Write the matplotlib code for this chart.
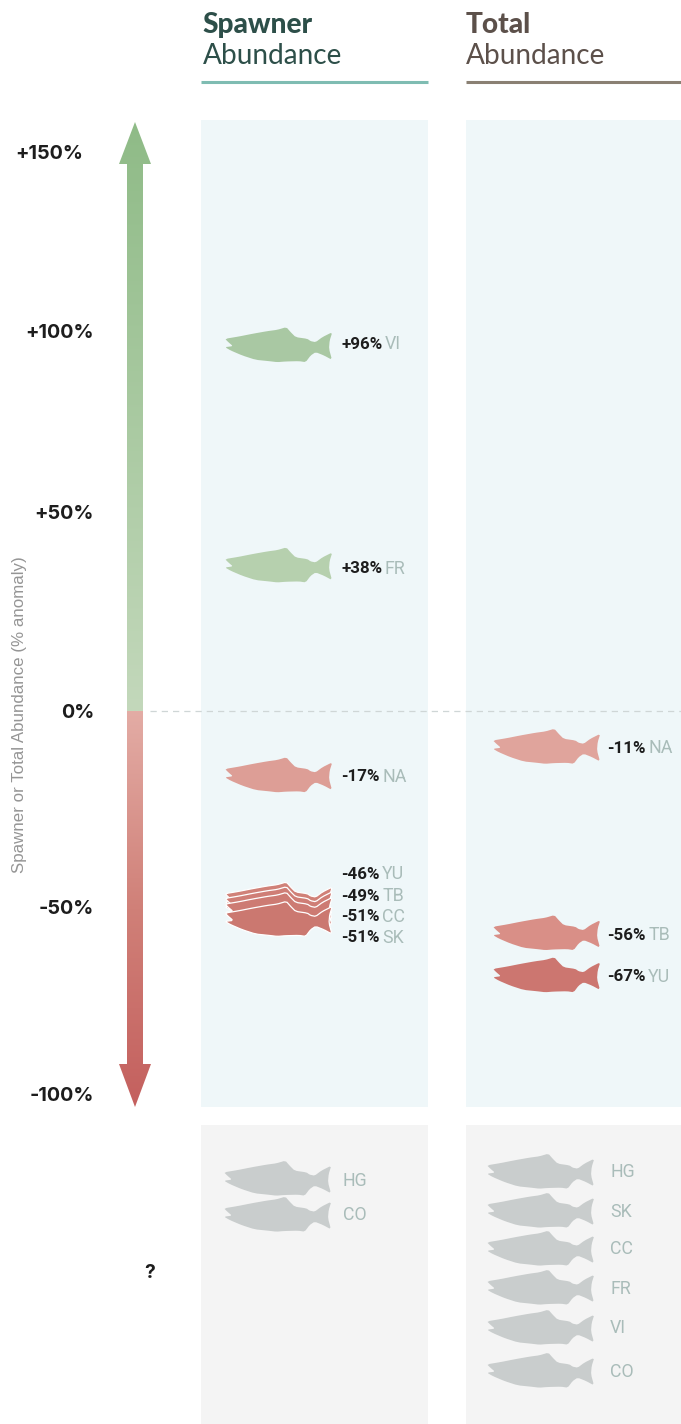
import numpy as np
import matplotlib
matplotlib.use('Agg')
import matplotlib.pyplot as plt
from matplotlib.colors import LinearSegmentedColormap
from matplotlib.patches import PathPatch, Polygon, Rectangle
from matplotlib.path import Path

# data
scale_ticks = [150, 100, 50, 0, -50, -100]
scale_labels = ['+150%', '+100%', '+50%', '0%', '-50%', '-100%']

spawner_regions = ['VI', 'FR', 'NA', 'YU', 'TB', 'CC', 'SK']
spawner_values = [96, 38, -17, -46, -49, -51, -51]
total_regions = ['NA', 'TB', 'YU']
total_values = [-11, -56, -67]
spawner_unknown = ['HG', 'CO']
total_unknown = ['HG', 'SK', 'CC', 'FR', 'VI', 'CO']

# layout, in image pixels
W, H = 681, 1424
tick_px = [152, 331, 512, 711, 907, 1094]
spawner_fish_nudge = [0, 6, -2, 9, 2, 0, 9]
spawner_label_nudge = [-1, 9, -1, -17, -7, 6, 27]
total_fish_nudge = [-7, 4, 5]
total_label_nudge = [-6, 6, 6]
spawner_unknown_y = [1179, 1215]
total_unknown_y = [1172, 1211, 1249, 1288, 1328, 1371]
spawner_unknown_label_y = [1181, 1215]
total_unknown_label_y = [1172, 1212, 1249, 1289, 1328, 1372]

# styles per fish
spawner_colours = ['#a9c8a3', '#b6d0ae', '#dd9e96', '#d08178', '#cf7e76', '#cd7b73', '#cb7870']
total_colours = ['#e0a49c', '#d98f87', '#cc7670']

# salmon outline, traced at 3x, origin at nose/mid body
fish_pts = np.array([(78, 105), (120, 98), (160, 90), (205, 82), (235, 78), (262, 70), (275, 85), (290, 100),
                     (325, 105), (335, 112), (350, 115), (370, 100), (400, 85), (392, 110), (390, 135), (399, 168),
                     (375, 155), (350, 145), (335, 155), (320, 175), (300, 172), (260, 173), (235, 175), (210, 172),
                     (170, 168), (130, 155), (95, 140), (78, 130), (102, 127), (88, 115), (78, 105)], float)
fish_pts = (fish_pts - [78, 125]) / 3.0
# knock the corners off a little
a, b = fish_pts[:-1], fish_pts[1:]
fish_pts = np.empty((2 * len(a) + 1, 2))
fish_pts[0::2][:-1] = a * 0.82 + b * 0.18
fish_pts[1::2] = a * 0.18 + b * 0.82
fish_pts[-1] = fish_pts[0]

NARROW = ['Roboto', 'DejaVu Sans']
HEAD = ['Lato', 'DejaVu Sans']
AXIS = ['Inter', 'Liberation Sans', 'DejaVu Sans']

green_cmap = LinearSegmentedColormap.from_list('g', ['#c3d8bb', '#8fbb87'])
red_cmap = LinearSegmentedColormap.from_list('r', ['#e3aca5', '#d08078', '#c4605e'])

fig = plt.figure(figsize=(W / 100, H / 100), dpi=100, facecolor='white')
ax = fig.add_axes([0, 0, 1, 1])
ax.set_xlim(0, W)
ax.set_ylim(H, 0)
ax.axis('off')

# value axis on top, sharing the pixels through a piecewise scale
val_ax = fig.add_axes([0, 0, 1, 1], zorder=2)
val_ax.patch.set_alpha(0)
anchor_v = np.array([-100 - 330 * 50 / 187] + scale_ticks[::-1] + [150 + 152 * 50 / 179])
anchor_p = np.array([H] + tick_px[::-1] + [0], float)
val_ax.set_yscale('function', functions=(lambda v: -np.interp(v, anchor_v, anchor_p),
                                         lambda p: np.interp(-p, anchor_p[::-1], anchor_v[::-1])))
val_ax.set_xlim(0, W)
val_ax.set_ylim(anchor_v[0], anchor_v[-1])
val_ax.axis('off')


def value_px(v):
    disp = val_ax.transData.transform((0, v))
    return ax.transData.inverted().transform(disp)[1]


def draw_fish(left, cy, colour, edge='none', z=3):
    path = Path(fish_pts + [left, cy])
    ax.add_patch(PathPatch(path, facecolor=colour, edgecolor=edge, lw=0.9 if edge != 'none' else 0, zorder=z))


def draw_label(x, y, num, code):
    t = ax.text(x, y, num, family=NARROW, fontsize=12.2, fontweight='bold', color='#1d1d1d', va='center', ha='left')
    ax.annotate(code, xy=(1, 0.5), xycoords=t, xytext=(2, 0), textcoords='offset points', family=NARROW,
                fontsize=12.8, color='#a9bcb9', va='center', ha='left')


# panels
for x0, x1 in [(201, 428), (466, 681)]:
    ax.add_patch(Rectangle((x0, 120), x1 - x0, 987, fc='#eff7f9', ec='none', zorder=1))
    ax.add_patch(Rectangle((x0, 1125), x1 - x0, H - 1125, fc='#f4f4f4', ec='none', zorder=1))

# headers
ax.plot([201, 428], [82, 82], color='#7fbcb2', lw=2.2, solid_capstyle='butt')
ax.plot([466, 681], [82, 82], color='#8a8073', lw=2.2, solid_capstyle='butt')
ax.text(202.5, 25, 'Spawner', family=HEAD, fontsize=20.2, fontweight='black', color='#2d4f49', va='center')
ax.text(202.5, 56, 'Abundance', family=HEAD, fontsize=20.2, color='#2d4f49', va='center')
ax.text(465.5, 25, 'Total', family=HEAD, fontsize=20.2, fontweight='black', color='#5c504a', va='center')
ax.text(465.5, 56, 'Abundance', family=HEAD, fontsize=20.2, color='#5c504a', va='center')

# gradient arrow
grad_top = np.linspace(1, 0, 256).reshape(-1, 1)
im = ax.imshow(grad_top, cmap=green_cmap, vmin=0, vmax=1, extent=(119, 151, 711, 122), aspect='auto', zorder=2)
im.set_clip_path(Polygon([(135, 122), (151, 164), (143, 164), (143, 711), (127, 711), (127, 164), (119, 164)],
                         transform=ax.transData))
grad_bot = np.linspace(0, 1, 256).reshape(-1, 1)
im = ax.imshow(grad_bot, cmap=red_cmap, vmin=0, vmax=1, extent=(119, 151, 1107, 711), aspect='auto', zorder=2)
im.set_clip_path(Polygon([(135, 1107), (151, 1064), (143, 1064), (143, 711), (127, 711), (127, 1064), (119, 1064)],
                         transform=ax.transData))
ax.set_xlim(0, W)
ax.set_ylim(H, 0)

# scale labels and zero line
for v, lab in zip(scale_ticks, scale_labels):
    val_ax.annotate(lab, xy=(94 if v != 150 else 83, v), xytext=(0, -1.5), textcoords='offset points',
                    family=AXIS, fontsize=14.3, fontweight='bold', color='#1d1d1d', ha='right', va='center')
val_ax.plot([150, W], [0, 0], color='#cfd6d6', lw=0.9, dashes=(5, 4), zorder=1)
ax.text(20, 715, 'Spawner or Total Abundance (% anomaly)', family=['Liberation Sans', 'DejaVu Sans'], fontsize=12.2,
        color='#959595', rotation=90, ha='center', va='center')
ax.text(150, 1273, '?', family=AXIS, fontsize=14, fontweight='bold', color='#1d1d1d', ha='center', va='center')

# spawner fish
for i, (code, v) in enumerate(zip(spawner_regions, spawner_values)):
    cy = value_px(v)
    edge = 'white' if v <= -46 else 'none'
    draw_fish(225, cy + spawner_fish_nudge[i], spawner_colours[i], edge=edge, z=3 + i)
    draw_label(341, cy + spawner_label_nudge[i], f'{v:+d}%', code)

# total fish
for i, (code, v) in enumerate(zip(total_regions, total_values)):
    cy = value_px(v)
    draw_fish(493, cy + total_fish_nudge[i], total_colours[i])
    draw_label(607, cy + total_label_nudge[i], f'{v:+d}%', code)

# no data
for code, y, ly in zip(spawner_unknown, spawner_unknown_y, spawner_unknown_label_y):
    draw_fish(224, y, '#c9cdcd')
    ax.text(343, ly, code, family=NARROW, fontsize=12.8, color='#a9bcb9', va='center')
for code, y, ly in zip(total_unknown, total_unknown_y, total_unknown_label_y):
    draw_fish(487, y, '#c9cdcd')
    ax.text(610, ly, code, family=NARROW, fontsize=12.8, color='#a9bcb9', va='center')

fig.savefig('out.png', dpi=100, facecolor='white')
